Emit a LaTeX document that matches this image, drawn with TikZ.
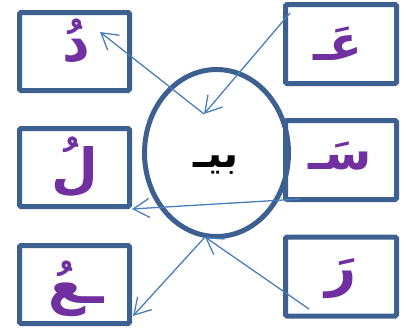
\documentclass[tikz,border=0pt]{standalone}
\usepackage{fontspec}
\usetikzlibrary{arrows.meta,shapes.geometric}
\newfontfamily\arabicfont[Script=Arabic]{DejaVu Sans}
\TeXXeTstate=1
\definecolor{boxblue}{HTML}{3C6090}
\definecolor{arrblue}{HTML}{4A7EBB}
\definecolor{letterpurple}{HTML}{7030A0}
\begin{document}
\begin{tikzpicture}[x=1pt,y=-1pt,
  letterbox/.style={draw=boxblue,line width=5pt,rounded corners=1.5pt,rectangle,inner sep=0pt},
  leftbox/.style={letterbox,minimum width=110pt,minimum height=78pt},
  rightbox/.style={letterbox,minimum width=111pt,minimum height=79pt},
  letter/.style={text=letterpurple,font=\arabicfont\bfseries\fontsize{54}{58}\selectfont,inner sep=0pt},
  smallletter/.style={letter,font=\arabicfont\bfseries\fontsize{48}{52}\selectfont},
  link/.style={draw=arrblue,line width=1.3pt,-{Straight Barb[length=16pt,width=19pt,line width=1.3pt]}}
]
\useasboundingbox (0,0) rectangle (406,327);
% boxes
\node[leftbox] (bl1) at (74.5,51.5) {};
\node[leftbox] (bl2) at (74.5,167.5) {};
\node[leftbox] (bl3) at (74.5,284.5) {};
\node[rightbox] (br1) at (341,44) {};
\node[rightbox] (br2) at (341,160) {};
\node[rightbox] (br3) at (341,276.5) {};
% ellipse
\node[draw=boxblue,line width=5pt,ellipse,minimum width=144pt,minimum height=167pt,inner sep=0pt] (c) at (216.5,153) {};
% letters
\node[letter] (t1) at (76,41) {\beginR دُ\endR};
\node[letter] (t2) at (75,167) {\beginR لُ\endR};
\node[letter] (t3) at (76,289) {\beginR ـعُ\endR};
\node[smallletter] (t4) at (338,44) {\beginR عَـ\endR};
\node[smallletter] (t5) at (340,156) {\beginR سَـ\endR};
\node[letter] (t6) at (341,279) {\beginR رَ\endR};
\node[font=\arabicfont\bfseries\fontsize{40}{44}\selectfont,inner sep=0pt] (ct) at (216,165) {\beginR بيـ\endR};
% connector end points
\coordinate (ctop) at (204,114);
\coordinate (cbot) at (205,237);
\coordinate (l1) at (100,32);
\coordinate (l2) at (132,209);
\coordinate (l3) at (133,316);
\coordinate (r1) at (290,13);
\coordinate (r2) at (300,199);
\coordinate (r3) at (309,309);
% arrows
\draw[link] (ctop) -- (l1);
\draw[link] (r1) -- (ctop);
\draw[link] (r2) -- (l2);
\draw[link] (r3) -- (cbot);
\draw[link] (cbot) -- (l3);
\end{tikzpicture}
\end{document}
